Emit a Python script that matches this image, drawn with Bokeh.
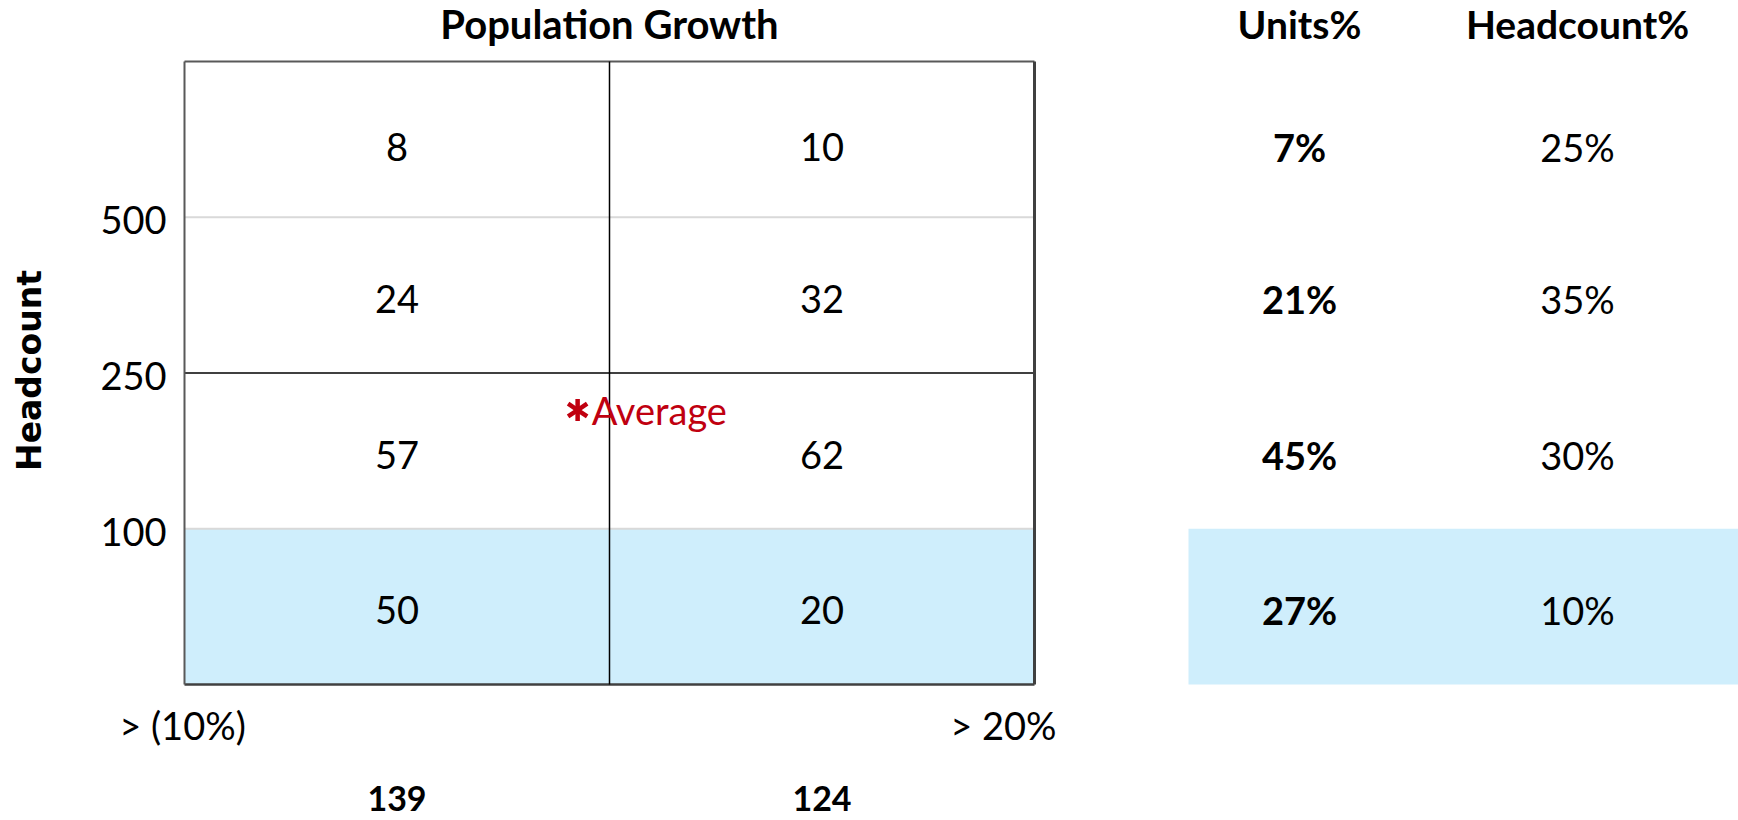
from bokeh.plotting import figure
from bokeh.models import Range1d
from bokeh.core.properties import value
from bokeh.embed import file_html
from bokeh.resources import INLINE
import math

# ---------------- data ----------------
title_text = "Population Growth"
y_axis_title = "Headcount"
row_boundary_labels = ["100", "250", "500"]          # bottom -> top boundaries
x_edge_labels = ["> (10%)", "> 20%"]                  # left edge, right edge
cell_values = [[8, 10], [24, 32], [57, 62], [50, 20]]  # rows top -> bottom, 2 columns
column_totals = [139, 124]
table_headers = ["Units%", "Headcount%"]
units_pct = ["7%", "21%", "45%", "27%"]
headcount_pct = ["25%", "35%", "30%", "10%"]
highlight_rows = [3]                                   # bottom row highlighted
average_label = "Average"
average_x = [0.925]     # in grid-column units
average_y = [1.762]     # in grid-row units

# ---------------- layout (pixels) ----------------
W, H = 1738, 820
COL_PX = 425.0
ROW_PX = 155.75
GRID_LEFT = 184
GRID_TOP = 61
n_rows = len(cell_values)
n_cols = len(cell_values[0])
GRID_RIGHT = GRID_LEFT + n_cols * COL_PX
GRID_BOTTOM = GRID_TOP + n_rows * ROW_PX
ROW_TEXT_SHIFT = [8, 4, 4, 3]   # px downward shift of row labels

def xd(px):
    return (px - GRID_LEFT) / COL_PX

def yd(py):
    return n_rows - (py - GRID_TOP) / ROW_PX

FONT = "Lato"
BLUE = "#CFEEFC"
RED = "#C00010"

p = figure(width=W, height=H, output_backend="svg", toolbar_location=None,
           x_axis_location=None, y_axis_location=None,
           x_range=Range1d(xd(0), xd(W)),
           y_range=Range1d(yd(H), yd(0)),
           min_border_left=0, min_border_right=0,
           min_border_top=0, min_border_bottom=0)
p.xgrid.visible = False
p.ygrid.visible = False
p.outline_line_color = None
p.background_fill_color = "white"
p.border_fill_color = "white"

# highlighted cells (grid) and table band
hl_x, hl_y = [], []
for r in highlight_rows:
    for c in range(n_cols):
        hl_x.append(c + 0.5)
        hl_y.append(n_rows - 0.5 - r)
p.rect(x=hl_x, y=hl_y, width=1, height=1, fill_color=BLUE, line_color=None)

table_left = xd(GRID_RIGHT + 154)
table_right = xd(W)
for r in highlight_rows:
    p.quad(left=[table_left], right=[table_right], top=[n_rows - r], bottom=[n_rows - r - 1],
           fill_color=BLUE, line_color=None)

# grid lines
h_y = list(range(n_rows + 1))
h_col = ["#404040", "#d9d9d9", "#000000", "#d9d9d9", "#595959"]
h_w = [2.5, 2, 1.5, 2, 2]
p.segment(x0=[0] * len(h_y), x1=[n_cols] * len(h_y), y0=h_y, y1=h_y,
          line_color=h_col, line_width=h_w)
v_x = list(range(n_cols + 1))
v_col = ["#595959", "#000000", "#404040"]
v_w = [2, 1.5, 3]
p.segment(x0=v_x, x1=v_x, y0=[0] * len(v_x), y1=[n_rows] * len(v_x),
          line_color=v_col, line_width=v_w)

# y boundary labels (tick labels)
p.text(x=[xd(166)] * len(row_boundary_labels),
       y=[i + 1 - 3 / ROW_PX for i in range(len(row_boundary_labels))],
       text=row_boundary_labels, text_align="right", text_baseline="middle",
       text_font=value(FONT), text_font_size="38px", text_color="black")

# y axis title
p.text(x=[xd(29)], y=[yd(370)], text=[y_axis_title], angle=math.pi / 2,
       text_align="center", text_baseline="middle", text_font=value("DejaVu Sans"),
       text_font_style="bold", text_font_size="33px", text_color="black")

# cell numbers
cx, cy, ct = [], [], []
for r, row in enumerate(cell_values):
    for c, v in enumerate(row):
        cx.append(c + 0.5)
        cy.append(n_rows - 0.5 - r - ROW_TEXT_SHIFT[r] / ROW_PX)
        ct.append(str(v))
p.text(x=cx, y=cy, text=ct, text_align="center", text_baseline="middle",
       text_font=value(FONT), text_font_size="38px", text_color="black")

# title
p.text(x=[n_cols / 2], y=[yd(23)], text=[title_text], text_align="center",
       text_baseline="middle", text_font=value(FONT), text_font_style="bold",
       text_font_size="40px", text_color="black")

# table
col_centers = [xd(GRID_RIGHT + 265), xd(GRID_RIGHT + 543)]
p.text(x=col_centers, y=[yd(23)] * 2, text=table_headers, text_align="center",
       text_baseline="middle", text_font=value(FONT), text_font_style="bold",
       text_font_size="39px", text_color="black")
ry = [n_rows - 0.5 - r - ROW_TEXT_SHIFT[r] / ROW_PX for r in range(n_rows)]
p.text(x=[col_centers[0]] * n_rows, y=ry, text=units_pct, text_align="center",
       text_baseline="middle", text_font=value(FONT), text_font_style="bold",
       text_font_size="38px", text_color="black")
p.text(x=[col_centers[1]] * n_rows, y=ry, text=headcount_pct, text_align="center",
       text_baseline="middle", text_font=value(FONT),
       text_font_size="38px", text_color="black")

# x edge labels
p.text(x=[xd(182)], y=[yd(GRID_BOTTOM + 40)], text=[x_edge_labels[0]],
       text_align="center", text_baseline="middle", text_font=value(FONT),
       text_font_size="38px", text_color="black")
p.text(x=[n_cols], y=[yd(GRID_BOTTOM + 40)], text=[x_edge_labels[1]],
       text_align="right", text_baseline="middle", x_offset=22, text_font=value(FONT),
       text_font_size="38px", text_color="black")

# column totals
p.text(x=[c + 0.5 for c in range(n_cols)], y=[yd(GRID_BOTTOM + 114)] * n_cols,
       text=[str(t) for t in column_totals], text_align="center", text_baseline="middle",
       text_font=value(FONT), text_font_style="bold", text_font_size="34px",
       text_color="black")

# average marker (six-armed asterisk)
p.scatter(x=average_x * 2, y=average_y * 2, marker="y", angle=[0, math.pi],
          size=22, line_color=RED, line_width=4.5)
p.text(x=average_x, y=average_y, text=[average_label], x_offset=14,
       text_align="left", text_baseline="middle", text_font=value(FONT),
       text_font_size="38px", text_color=RED)

open("out.html", "w").write(file_html(p, INLINE))
